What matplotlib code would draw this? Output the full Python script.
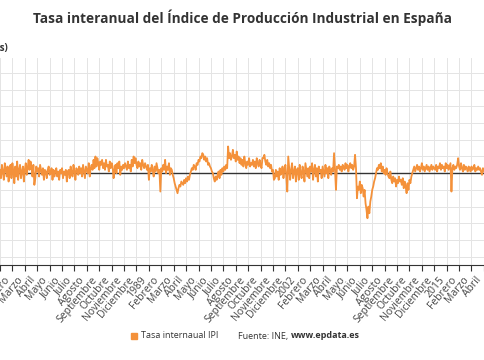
import matplotlib.pyplot as plt
import numpy as np

plt.rcParams['font.family'] = ['Open Sans', 'DejaVu Sans']

# tasa interanual del IPI (%), mensual desde enero de 1976
ipi = [
    2, -3, 5, 1, -4, 6, 3, -2, 4, -5, 2, 5,          # 1976
    -3, 6, 1, -6, 4, -2, 7, -4, 2, 5, -3, 1,         # 1977
    4, -5, 2, 6, -1, 3, 8, 2, 7, 4, -2, 5,           # 1978
    -7, -3, 4, 1, 3, -2, 5, 2, -1, 3, -4, 2,         # 1979
    1, -3, 2, 4, -1, 0, 3, -4, 2, -2, 1, 3,          # 1980
    -2, 1, -4, 2, 0, 3, -3, 1, -1, 2, -5, 1,         # 1981
    2, -3, 4, 0, -2, 5, 1, -4, 3, 2, -1, 4,          # 1982
    0, 3, -2, 5, 1, -3, 4, 2, 0, 6, -2, 3,           # 1983
    5, 2, 8, 3, 10, 4, 9, 6, 2, 7, 5, 8,             # 1984
    3, 6, 2, 8, 4, 5, 1, 7, 3, 6, 4, -3,             # 1985
    2, 5, 0, 6, 3, 7, -1, 4, 2, 5, 3, 6,             # 1986
    4, 2, 7, 3, 5, 1, 8, 4, 10, 6, 9, 5,             # 1987
    3, 7, 4, 6, 2, 8, 5, 3, 6, 4, 2, 5,              # 1988
    -4, 3, 1, 5, 2, -2, 4, 1, 6, 3, 0, 2,            # 1989
    -11, 3, 1, 5, 2, 8, 0, 4, 2, 6, -1, 3,           # 1990
    2, -1, -3, -6, -8, -10, -12, -9, -7, -8, -5, -6,  # 1991
    -7, -4, -6, -3, -5, -2, -4, -1, 1, 3, 2, 5,      # 1992
    4, 2, 6, 5, 8, 7, 10, 9, 12, 11, 8, 10,          # 1993
    7, 9, 5, 6, 4, 3, 1, 0, -3, -5, -2, -4,          # 1994
    -1, 1, -3, 2, -1, 3, 1, 4, 2, 5, 3, 16,          # 1995
    9, 12, 8, 10, 14, 9, 11, 7, 13, 8, 10, 6,        # 1996
    9, 5, 8, 4, 10, 6, 3, 7, 5, 9, 4, 6,             # 1997
    5, 8, 4, 7, 3, 9, 6, 4, 8, 5, 3, 9,              # 1998
    9, 11, 7, 5, 8, 4, 6, 3, 5, 1, 2, -4,            # 1999
    -3, 2, -2, 1, -4, 3, -1, 0, 4, -3, 2, 5,         # 2000
    -2, -11, 10, 3, -4, 2, 6, -3, 1, 4, -5, 2,       # 2001
    3, -4, 5, 0, -3, 4, 1, -5, 6, 2, -2, 3,          # 2002
    -3, 4, 1, 6, -4, 2, 5, -2, 3, -5, 4, 1,          # 2003
    2, -3, 4, 1, -2, 5, 0, 3, -3, 4, 2, -1,          # 2004
    3, 1, 12, 2, -10, 4, 3, 5, 2, 4, 1, 5,           # 2005
    4, 2, 6, 3, 5, 1, 4, 6, 3, 5, 2, 4,              # 2006
    11, 3, -15, -8, -10, -5, -12, -7, -9, -14, -10, -18,  # 2007
    -22, -27, -20, -24, -17, -14, -10, -8, -5, -3, 0, 3,  # 2008
    2, 5, 3, 6, 1, 4, 0, 2, -1, 3, 0, -2,            # 2009
    -3, 1, -4, -6, -2, -5, -3, -8, -4, -6, -2, -5,   # 2010
    -4, -7, -3, -9, -5, -8, -12, -6, -10, -4, -6, -2,  # 2011
    0, 2, 4, 1, 3, 5, 2, 4, 1, 3, 6, 2,              # 2012
    4, 1, 3, 5, 2, 4, 1, 3, 5, 2, 4, 3,              # 2013
    2, 5, 1, 4, 3, 6, 2, 5, 3, 4, 1, 6,              # 2014
    3, 5, 2, 4, 6, -11, 3, 5, 2, 4, 3, 5,            # 2015
    9, 4, 2, 6, 3, 1, 5, 2, 4, 3, 1, 4,              # 2016
    3, 1, 4, 2, 3, 5, 1, 3, 2, 4, 2, 3,              # 2017
    1, -1, 3, 2, 0, 2, -1, 2, 1, 3, 0, -1,           # 2018
]
first_year = 1976
meses = ['Enero', 'Febrero', 'Marzo', 'Abril', 'Mayo', 'Junio', 'Julio',
         'Agosto', 'Septiembre', 'Octubre', 'Noviembre', 'Diciembre']
tick_step = 13

orange = '#f4913a'

fig = plt.figure(figsize=(4.85, 3.6), dpi=100)
ax = fig.add_axes([0, 1 - 265 / 360, 1, (265 - 58) / 360])

n = len(ipi)
x = np.arange(n)
ax.axhline(0, color='#333333', lw=1.0, zorder=2)
ax.plot(x, ipi, color=orange, lw=1.3, zorder=3)

# the picture is a crop of a wider chart
px_per_month = 0.974
x0 = 156 - 142 / px_per_month
ax.set_xlim(x0, x0 + 485 / px_per_month)
ax.set_ylim(-55, 69)

ticks = list(range(0, n, tick_step))
labels = [str(first_year + i // 12) if i % 12 == 0 else meses[i % 12] for i in ticks]
ax.set_xticks(ticks)
ax.set_xticklabels(labels, rotation=50, ha='right', rotation_mode='default',
                   fontsize=7.5, color='#444444')
ax.set_yticks(range(-50, 70, 10))
ax.tick_params(axis='y', left=False, labelleft=False)
ax.tick_params(axis='x', length=4, color='#333333', pad=3)
ax.grid(True, color='#e4e4e4', lw=0.7)
ax.set_axisbelow(True)
for s in ['top', 'right', 'left']:
    ax.spines[s].set_visible(False)
ax.spines['bottom'].set_color('#333333')

fig.text(0.5, 1 - 18 / 360, 'Tasa interanual del Índice de Producción Industrial en España',
         ha='center', va='center', fontsize=9.8, fontweight='bold', color='#333333')
fig.text(8 / 485, 1 - 48 / 360, '(Tasas)', ha='right', va='center',
         fontsize=7, fontweight='bold', color='#333333')

# leyenda y fuente
ly = 1 - 336 / 360
fig.patches.append(plt.Rectangle((131 / 485, ly - 3 / 360), 6 / 485, 6 / 360,
                                 transform=fig.transFigure, color=orange))
fig.text(141 / 485, ly, 'Tasa internaual IPI', ha='left', va='center',
         fontsize=6.5, color='#333333')
t = fig.text(238 / 485, ly, 'Fuente: INE, ', ha='left', va='center',
             fontsize=6.5, color='#333333')
fig.canvas.draw()
bb = t.get_window_extent()
fig.text(bb.x1 / fig.bbox.width, ly, 'www.epdata.es', ha='left', va='center',
         fontsize=6.5, fontweight='bold', color='#333333')

fig.savefig('out.png', dpi=100)
